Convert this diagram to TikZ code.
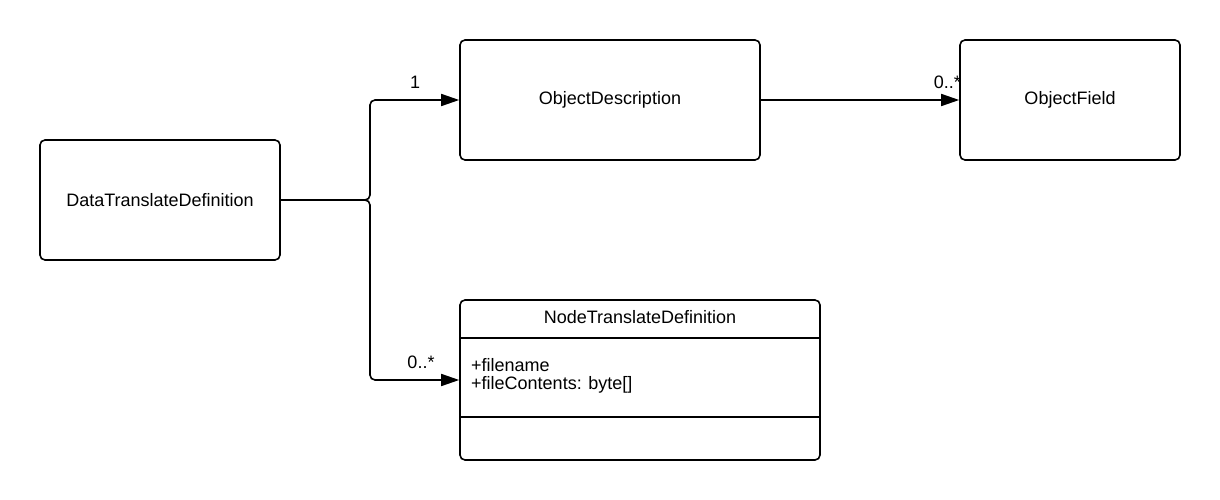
\documentclass[tikz,border=0pt]{standalone}
\usepackage{fontspec}
\setmainfont{Liberation Sans}
\usetikzlibrary{arrows.meta,calc}
\tikzset{%
	% Style of the class box
	ClassBox/.style={draw=black,line width=1.6pt,rounded corners=5pt,inner sep=0},
	% Style of the class text
	ClassName/.style={font=\fontsize{18}{18}\selectfont,black},
	% Style of the multiplicity label
	MultName/.style={font=\fontsize{18}{18}\selectfont,black,inner sep=1},
	% Style of the connector
	Connection/.style={line width=1.6pt,rounded corners=5pt,-{Triangle[length=18pt,width=12pt]}},
}
\begin{document}
\begin{tikzpicture}[x=1pt,y=-1pt] % STYLES
\useasboundingbox (0,0) rectangle (1220,500);

%~~~~~~~~~~~~~~~~~~~~~~~~~~~~~~~~~~~~~~~~~~~~~~~~~~
% Set Classes
%~~~~~~~~~~~~~~~~~~~~~~~~~~~~~~~~~~~~~~~~~~~~~~~~~~
\node[ClassBox, minimum width=240, minimum height=120] (DTD) at (160, 200) {};
\node[ClassName] at (DTD) {DataTranslateDefinition};

\node[ClassBox, minimum width=300, minimum height=120] (OD) at (610, 100) {};
\node[ClassName] at (OD) {ObjectDescription};

\node[ClassBox, minimum width=220, minimum height=120] (OF) at (1070, 100) {};
\node[ClassName] at (OF) {ObjectField};

\node[ClassBox, minimum width=360, minimum height=160] (NTD) at (640, 380) {};
\node[ClassName] at (640, 317) {NodeTranslateDefinition};
\draw[line width=1.6pt] (460, 338) -- (820, 338);
\draw[line width=1.6pt] (460, 417) -- (820, 417);
\node[ClassName, align=left, anchor=base west, inner sep=0] at (471, 389) {+filename\\+fileContents: byte[]};

%~~~~~~~~~~~~~~~~~~~~~~~~~~~~~~~~~~~~~~~~~~~~~~~~~~
% Set Connections
%~~~~~~~~~~~~~~~~~~~~~~~~~~~~~~~~~~~~~~~~~~~~~~~~~~
%Connection from DTD to OD
\draw[Connection] (DTD.east) -- (370, 200) -- (370, 100) -- (OD.west);
\node[MultName] at (415, 82) {1};

%Connection from DTD to NTD
\draw[Connection] (DTD.east) -- (370, 200) -- (370, 380) -- (NTD.west |- 0, 380);
\node[MultName] at (421, 362) {0..*};

%Connection from OD to OF
\draw[Connection] (OD.east) -- (OF.west);
\node[MultName, anchor=east] at (962, 82) {0..*};

\end{tikzpicture}
\end{document}
